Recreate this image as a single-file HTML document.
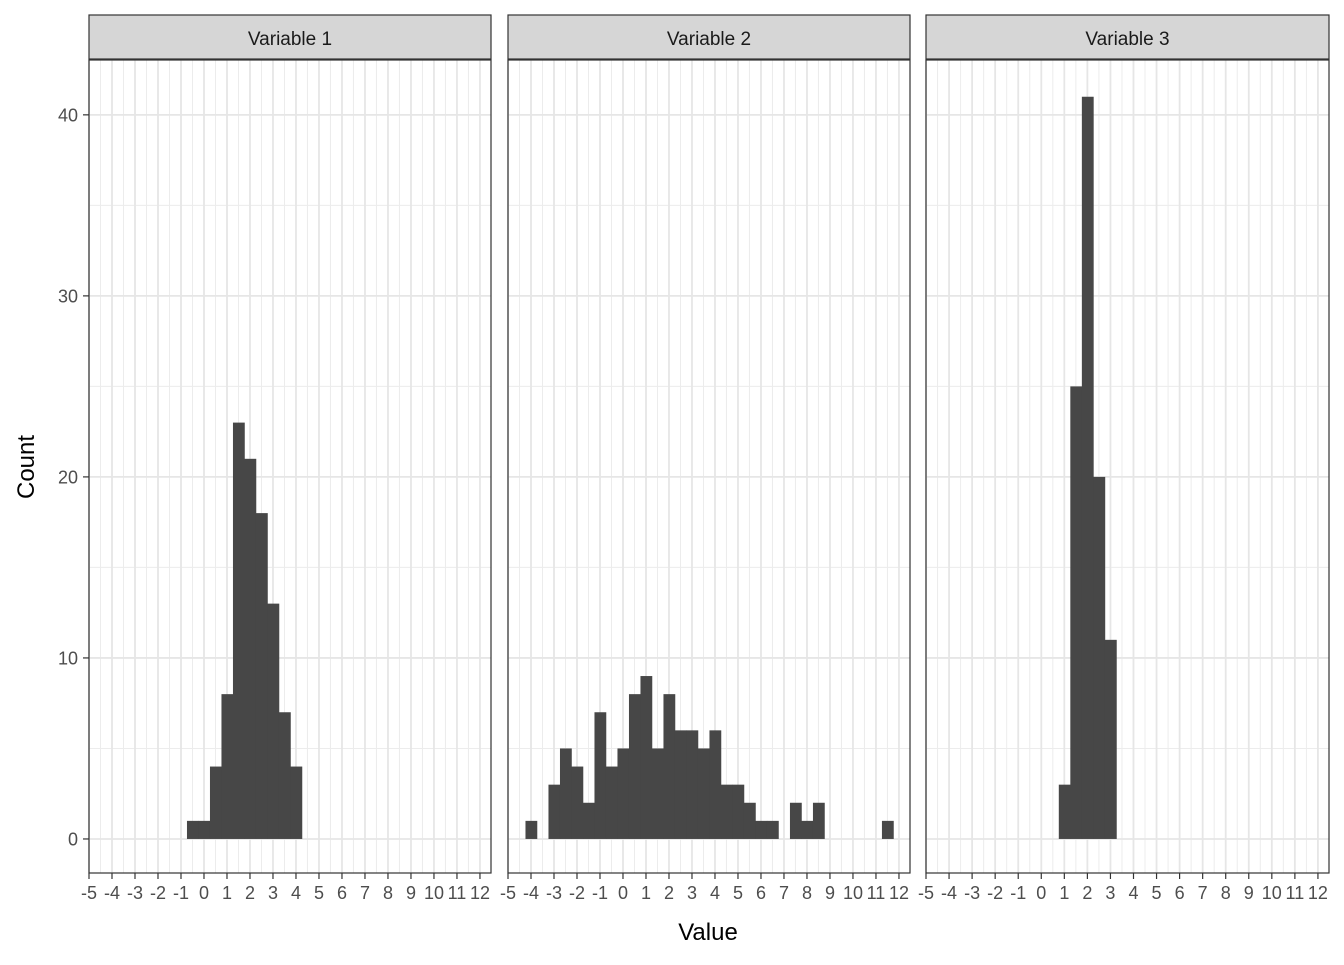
<!DOCTYPE html>
<html><head><meta charset="utf-8"><style>
body{margin:0;background:#fff;}
svg text{font-family:"Liberation Sans",Arial,sans-serif;}
</style></head><body>
<svg id="chart" width="1344" height="960" viewBox="0 0 1344 960" xmlns="http://www.w3.org/2000/svg">
<rect width="1344" height="960" fill="#fff"/>
<text x="0" y="0" transform="translate(34,467) rotate(-90)" text-anchor="middle" font-size="24" fill="#000">Count</text>
<text x="708" y="940" text-anchor="middle" font-size="24" fill="#000">Value</text>
</svg>
<script>
const panelTitles = ["Variable 1", "Variable 2", "Variable 3"];
const binStart = -4.24;
const binWidth = 0.5;
const countsVar1 = [0,0,0,0,0,0,0,1,1,4,8,23,21,18,13,7,4];
const countsVar2 = [1,0,3,5,4,2,7,4,5,8,9,5,8,6,6,5,6,3,3,2,1,1,0,2,1,2,0,0,0,0,0,1];
const countsVar3 = [0,0,0,0,0,0,0,0,0,0,3,25,41,20,11];
const xTicks = [-5,-4,-3,-2,-1,0,1,2,3,4,5,6,7,8,9,10,11,12];
const yTicks = [0,10,20,30,40];

const svg = document.getElementById('chart');
const NS = 'http://www.w3.org/2000/svg';
const panels = [{x0:89,x1:491},{x0:508,x1:910},{x0:926,x1:1329}];
const allCounts = [countsVar1, countsVar2, countsVar3];
const xDom = [-5, 12.48];
const yDom = [-1.88, 43.03];
const yTop = 60, yBot = 873;
function yS(v){return yBot - (v - yDom[0])/(yDom[1]-yDom[0])*(yBot-yTop);}
function mk(tag, attrs){const e=document.createElementNS(NS,tag);for(const k in attrs)e.setAttribute(k,attrs[k]);svg.appendChild(e);return e;}

panels.forEach((p, pi) => {
  const xS = v => p.x0 + (v - xDom[0])/(xDom[1]-xDom[0])*(p.x1-p.x0);
  const bg = mk('rect',{x:p.x0,y:yTop,width:p.x1-p.x0,height:yBot-yTop,fill:'#fff'});
  
  
  for (let v = xDom[0]+0.5; v < xDom[1]; v += 1) {
    const l = mk('line',{x1:xS(v),x2:xS(v),y1:yTop,y2:yBot,stroke:'#ececec','stroke-width':1});
    
    
  }
  for (let v = 5; v < yDom[1]; v += 10) {
    const l = mk('line',{x1:p.x0,x2:p.x1,y1:yS(v),y2:yS(v),stroke:'#ececec','stroke-width':1});
    
    
  }
  xTicks.forEach(t => {
    const l = mk('line',{x1:xS(t),x2:xS(t),y1:yTop,y2:yBot,stroke:'#e6e6e6','stroke-width':1.8});
    
    
  });
  yTicks.forEach(t => {
    const l = mk('line',{x1:p.x0,x2:p.x1,y1:yS(t),y2:yS(t),stroke:'#e6e6e6','stroke-width':1.8});
    
    
  });
  allCounts[pi].forEach((c, i) => {
    if (c <= 0) return;
    const a = binStart + i*binWidth, b = a + binWidth;
    const r = mk('rect',{x:xS(a),y:yS(c),width:xS(b)-xS(a)+0.3,height:yS(0)-yS(c),fill:'#474747'});
    
    
  });
  const bd = mk('rect',{x:p.x0,y:yTop,width:p.x1-p.x0,height:yBot-yTop,fill:'none',stroke:'#333','stroke-width':1.2});
  
  
  const st = mk('rect',{x:p.x0,y:15,width:p.x1-p.x0,height:44,fill:'#d6d6d6',stroke:'#333','stroke-width':1.2});
  
  
  const tt = mk('text',{x:(p.x0+p.x1)/2,y:45,'text-anchor':'middle','font-size':'19',fill:'#1a1a1a'});
  tt.textContent = panelTitles[pi];
  
  
  xTicks.forEach(t => {
    const tk = mk('line',{x1:xS(t),x2:xS(t),y1:yBot,y2:yBot+6,stroke:'#333','stroke-width':1.2});
    
    
    const lb = mk('text',{x:xS(t),y:yBot+26,'text-anchor':'middle','font-size':'18',fill:'#4d4d4d'});
    lb.textContent = t;
    
    
  });
  if (pi === 0) {
    yTicks.forEach(t => {
      const tk = mk('line',{x1:p.x0-6,x2:p.x0,y1:yS(t),y2:yS(t),stroke:'#333','stroke-width':1.2});
      
      
      const lb = mk('text',{x:p.x0-11,y:yS(t)+6.5,'text-anchor':'end','font-size':'18',fill:'#4d4d4d'});
      lb.textContent = t;
      
      
    });
  }
});
</script>
</body></html>
